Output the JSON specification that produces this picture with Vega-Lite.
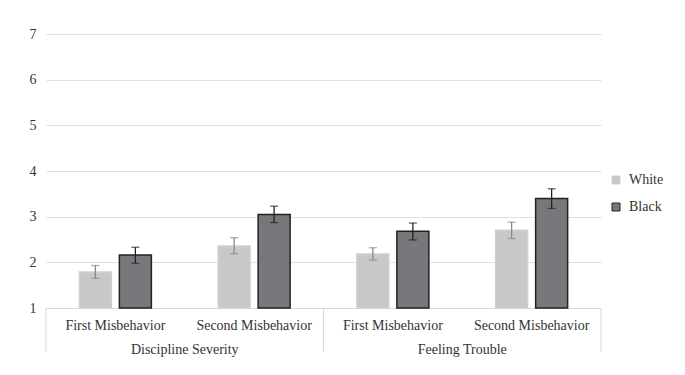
{
  "$schema": "https://vega.github.io/schema/vega-lite/v6.json",
  "width": 555,
  "height": 274,
  "autosize": {"type": "none"},
  "padding": {"left": 46, "top": 34, "right": 84, "bottom": 67},
  "background": "white",
  "config": {
    "font": "Liberation Serif, Times New Roman, DejaVu Serif, serif",
    "view": {"stroke": null},
    "axis": {"labelFont": "Liberation Serif, Times New Roman, DejaVu Serif, serif", "labelFontSize": 14, "labelColor": "#333333", "title": null},
    "legend": {"labelFont": "Liberation Serif, Times New Roman, DejaVu Serif, serif", "labelFontSize": 14, "labelColor": "#333333"},
    "text": {"font": "Liberation Serif, Times New Roman, DejaVu Serif, serif"}
  },
  "datasets": {
    "bars": [
      {"key": "DS|First", "measure": "Discipline Severity", "trial": "First Misbehavior", "race": "White", "mean": 1.79, "lo": 1.65, "hi": 1.93},
      {"key": "DS|First", "measure": "Discipline Severity", "trial": "First Misbehavior", "race": "Black", "mean": 2.16, "lo": 1.98, "hi": 2.33},
      {"key": "DS|Second", "measure": "Discipline Severity", "trial": "Second Misbehavior", "race": "White", "mean": 2.36, "lo": 2.19, "hi": 2.54},
      {"key": "DS|Second", "measure": "Discipline Severity", "trial": "Second Misbehavior", "race": "Black", "mean": 3.05, "lo": 2.87, "hi": 3.23},
      {"key": "FT|First", "measure": "Feeling Trouble", "trial": "First Misbehavior", "race": "White", "mean": 2.18, "lo": 2.05, "hi": 2.32},
      {"key": "FT|First", "measure": "Feeling Trouble", "trial": "First Misbehavior", "race": "Black", "mean": 2.68, "lo": 2.49, "hi": 2.86},
      {"key": "FT|Second", "measure": "Feeling Trouble", "trial": "Second Misbehavior", "race": "White", "mean": 2.70, "lo": 2.52, "hi": 2.88},
      {"key": "FT|Second", "measure": "Feeling Trouble", "trial": "Second Misbehavior", "race": "Black", "mean": 3.40, "lo": 3.18, "hi": 3.61}
    ],
    "groups": [
      {"key": "DS|First", "measure": "Discipline Severity"},
      {"key": "FT|First", "measure": "Feeling Trouble"}
    ],
    "ends": [
      {"key": "FT|Second"}
    ]
  },
  "layer": [
    {
      "data": {"name": "bars"},
      "mark": {"type": "bar", "strokeWidth": 1.5},
      "encoding": {
        "x": {
          "field": "key", "type": "nominal",
          "scale": {"domain": ["DS|First", "DS|Second", "FT|First", "FT|Second"], "paddingInner": 0, "paddingOuter": 0},
          "axis": {
            "labelExpr": "datum.value == 'DS|First' || datum.value == 'FT|First' ? 'First Misbehavior' : 'Second Misbehavior'",
            "labelAngle": 0, "ticks": false, "tickSize": 0, "labelPadding": 17, "labelBaseline": "middle",
            "domainColor": "#d9d9d9", "domainWidth": 1, "grid": false
          }
        },
        "xOffset": {
          "field": "race", "type": "nominal",
          "scale": {"domain": ["White", "Black"], "paddingInner": 0.2, "paddingOuter": 0.834}
        },
        "y": {
          "field": "mean", "type": "quantitative",
          "scale": {"domain": [1, 7], "nice": false, "zero": false},
          "axis": {
            "values": [1, 2, 3, 4, 5, 6, 7], "domain": false, "ticks": false, "tickSize": 0,
            "labelPadding": 10, "gridColor": "#e0e0e0", "gridWidth": 1, "labelBaseline": "middle"
          }
        },
        "y2": {"datum": 1},
        "fill": {
          "field": "race", "type": "nominal",
          "scale": {"domain": ["White", "Black"], "range": ["#c8c8c8", "#77787b"]},
          "legend": {
            "title": null, "orient": "none", "legendX": 563, "legendY": 139,
            "symbolType": "square", "symbolSize": 64, "symbolStrokeWidth": 1, "rowPadding": 13, "labelOffset": 6
          }
        },
        "stroke": {
          "field": "race", "type": "nominal",
          "scale": {"domain": ["White", "Black"], "range": ["#d0d0d0", "#222222"]},
          "legend": {
            "title": null, "orient": "none", "legendX": 563, "legendY": 139,
            "symbolType": "square", "symbolSize": 64, "symbolStrokeWidth": 1, "rowPadding": 13, "labelOffset": 6
          }
        }
      }
    },
    {
      "data": {"name": "bars"},
      "mark": {"type": "rule", "strokeWidth": 1.3},
      "encoding": {
        "x": {"field": "key", "type": "nominal"},
        "xOffset": {"field": "race", "type": "nominal"},
        "y": {"field": "lo", "type": "quantitative"},
        "y2": {"field": "hi"},
        "color": {
          "field": "race", "type": "nominal",
          "scale": {"domain": ["White", "Black"], "range": ["#8a8a8a", "#222222"]},
          "legend": null
        }
      }
    },
    {
      "data": {"name": "bars"},
      "mark": {"type": "tick", "size": 8, "thickness": 1.3},
      "encoding": {
        "x": {"field": "key", "type": "nominal"},
        "xOffset": {"field": "race", "type": "nominal"},
        "y": {"field": "lo", "type": "quantitative"},
        "color": {"field": "race", "type": "nominal", "legend": null}
      }
    },
    {
      "data": {"name": "bars"},
      "mark": {"type": "tick", "size": 8, "thickness": 1.3},
      "encoding": {
        "x": {"field": "key", "type": "nominal"},
        "xOffset": {"field": "race", "type": "nominal"},
        "y": {"field": "hi", "type": "quantitative"},
        "color": {"field": "race", "type": "nominal", "legend": null}
      }
    },
    {
      "data": {"name": "groups"},
      "mark": {"type": "rule", "color": "#d9d9d9", "strokeWidth": 1},
      "encoding": {
        "x": {"field": "key", "type": "nominal", "bandPosition": 0},
        "y": {"datum": 1},
        "y2": {"datum": 0.04}
      }
    },
    {
      "data": {"name": "ends"},
      "mark": {"type": "rule", "color": "#d9d9d9", "strokeWidth": 1},
      "encoding": {
        "x": {"field": "key", "type": "nominal", "bandPosition": 1},
        "y": {"datum": 1},
        "y2": {"datum": 0.04}
      }
    },
    {
      "data": {"name": "groups"},
      "mark": {"type": "text", "fontSize": 14, "color": "#333333", "baseline": "middle", "align": "center"},
      "encoding": {
        "x": {"field": "key", "type": "nominal", "bandPosition": 1},
        "y": {"datum": 0.09},
        "text": {"field": "measure"}
      }
    }
  ]
}
